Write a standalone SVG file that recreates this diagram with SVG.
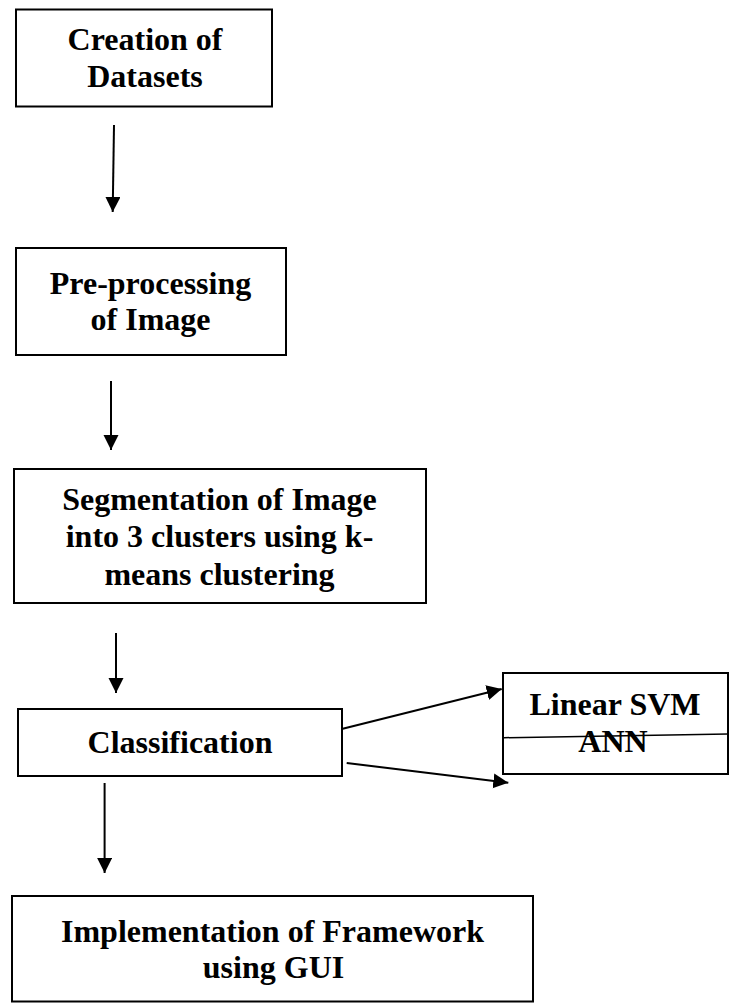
<svg xmlns="http://www.w3.org/2000/svg" width="729" height="1003" viewBox="0 0 729 1003">
  <style>
    .box { fill: #ffffff; stroke: #000000; stroke-width: 2; }
    .label { font-family: "Liberation Serif", "Times New Roman", serif; font-weight: bold; font-size: 32px; fill: #000000; text-anchor: middle; }
    .edge { stroke: #000000; stroke-width: 2; fill: none; marker-end: url(#arrow); }
    .rule { stroke: #000000; stroke-width: 1.5; fill: none; }
  </style>
  <defs>
    <marker id="arrow" markerUnits="userSpaceOnUse" markerWidth="16" markerHeight="16" refX="15" refY="7.5" orient="auto">
      <path d="M0,0 L15,7.5 L0,15 Z" fill="#000000"/>
    </marker>
  </defs>
  <rect width="729" height="1003" fill="#ffffff"/>

  <g id="node-datasets">
    <rect class="box" x="16" y="9.5" width="256" height="97"/>
    <text class="label" x="145" y="50">Creation of</text>
    <text class="label" x="145" y="87">Datasets</text>
  </g>

  <g id="node-preprocessing">
    <rect class="box" x="16" y="248" width="270" height="107"/>
    <text class="label" x="150.5" y="294">Pre-processing</text>
    <text class="label" x="150.5" y="330">of Image</text>
  </g>

  <g id="node-segmentation">
    <rect class="box" x="14" y="469" width="412" height="134"/>
    <text class="label" x="219.5" y="510">Segmentation of Image</text>
    <text class="label" x="219.5" y="547">into 3 clusters using k-</text>
    <text class="label" x="219.5" y="585">means clustering</text>
  </g>

  <g id="node-classification">
    <rect class="box" x="18" y="709" width="324" height="67"/>
    <text class="label" x="180" y="753">Classification</text>
  </g>

  <g id="node-classifiers">
    <rect class="box" x="503" y="673" width="225" height="101"/>
    <text class="label" x="615" y="715">Linear SVM</text>
    <text class="label" x="613" y="752">ANN</text>
    <line class="rule" x1="504" y1="737.7" x2="728" y2="734"/>
  </g>

  <g id="node-implementation">
    <rect class="box" x="12" y="896" width="521" height="105.5"/>
    <text class="label" x="272.5" y="942">Implementation of Framework</text>
    <text class="label" x="273.5" y="978">using GUI</text>
  </g>

  <g id="connectors">
    <line class="edge" x1="114" y1="125" x2="112.7" y2="212"/>
    <line class="edge" x1="111" y1="381" x2="111" y2="450"/>
    <line class="edge" x1="116" y1="633" x2="116" y2="693"/>
    <line class="edge" x1="104.6" y1="783" x2="104.6" y2="873"/>
    <line class="edge" x1="341.7" y1="729" x2="501.7" y2="689"/>
    <line class="edge" x1="346.7" y1="763" x2="508.3" y2="782.7"/>
  </g>
</svg>
